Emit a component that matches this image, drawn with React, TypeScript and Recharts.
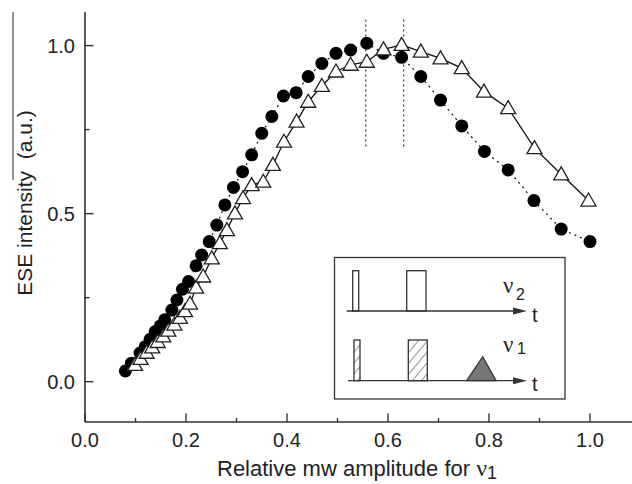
import { ScatterChart, Scatter, XAxis, YAxis, ReferenceLine } from 'recharts';

// filled circles (dash-dot line)
const circleX = [
  0.080, 0.092, 0.109, 0.119, 0.129, 0.139, 0.149, 0.158, 0.172, 0.182, 0.193, 0.205,
  0.220, 0.231, 0.246, 0.261, 0.277, 0.294, 0.312, 0.330, 0.350, 0.370, 0.393, 0.418,
  0.442, 0.469, 0.497, 0.526, 0.558, 0.591, 0.627, 0.665, 0.704, 0.746, 0.791, 0.838,
  0.889, 0.943, 1.000,
];
const circleY = [
  0.032, 0.055, 0.085, 0.104, 0.126, 0.149, 0.166, 0.184, 0.213, 0.243, 0.275, 0.298,
  0.345, 0.377, 0.417, 0.466, 0.526, 0.578, 0.625, 0.675, 0.739, 0.789, 0.850, 0.860,
  0.908, 0.947, 0.977, 0.987, 1.007, 0.977, 0.965, 0.908, 0.838, 0.761, 0.685, 0.630,
  0.539, 0.454, 0.417,
];

// open triangles (solid line)
const triX = [
  0.099, 0.110, 0.122, 0.133, 0.144, 0.155, 0.165, 0.177, 0.188, 0.198, 0.208,
  0.220, 0.234, 0.251, 0.267, 0.281, 0.297, 0.313, 0.330, 0.353, 0.372, 0.394, 0.419,
  0.442, 0.469, 0.497, 0.526, 0.558, 0.591, 0.627, 0.665, 0.704, 0.746, 0.790, 0.838,
  0.890, 0.943, 0.997,
];
const triY = [
  0.050, 0.068, 0.086, 0.102, 0.118, 0.135, 0.152, 0.170, 0.190, 0.210, 0.232,
  0.280, 0.313, 0.367, 0.412, 0.451, 0.501, 0.546, 0.585, 0.595, 0.645, 0.714, 0.774,
  0.833, 0.880, 0.923, 0.943, 0.952, 0.989, 1.002, 0.982, 0.962, 0.933, 0.863, 0.814,
  0.695, 0.617, 0.539,
];

const xTicks = [0, 0.1, 0.2, 0.3, 0.4, 0.5, 0.6, 0.7, 0.8, 0.9, 1.0];
const yTicks = [0, 0.25, 0.5, 0.75, 1.0];
const peakX = [0.556, 0.631];
const peakSpan = [0.70, 1.08];

const INK = '#222';
const AXIS = '#333';
const FONT = "Arial, 'Liberation Sans', Helvetica, sans-serif";

const circles = circleX.map((x, i) => ({ x, y: circleY[i] }));
const triangles = triX.map((x, i) => ({ x, y: triY[i] }));

function Dot(p: any) {
  return <circle cx={p.cx} cy={p.cy} r={6.5} fill="#000" />;
}

function Tri(p: any) {
  const { cx, cy } = p;
  return (
    <polygon
      points={`${cx},${cy - 7.5} ${cx - 7.5},${cy + 5.5} ${cx + 7.5},${cy + 5.5}`}
      fill="#fff"
      stroke={INK}
      strokeWidth={1.3}
    />
  );
}

function XTick(p: any) {
  const v = p.payload.value;
  const major = Math.round(v * 10) % 2 === 0;
  return (
    <g>
      <line x1={p.x} x2={p.x} y1={p.y} y2={p.y - (major ? 8.5 : 4)} stroke={AXIS} strokeWidth={1.4} />
      {major && (
        <text x={p.x} y={p.y + 25} textAnchor="middle" fontSize={20} fontFamily={FONT} fill={INK}>
          {v.toFixed(1)}
        </text>
      )}
    </g>
  );
}

function YTick(p: any) {
  const v = p.payload.value;
  const major = Math.round(v * 100) % 50 === 0;
  return (
    <g>
      <line x1={p.x} x2={p.x + (major ? 8.5 : 4.5)} y1={p.y} y2={p.y} stroke={AXIS} strokeWidth={1.4} />
      {major && (
        <text x={p.x - 10} y={p.y} dy="0.36em" textAnchor="end" fontSize={20} fontFamily={FONT} fill={INK}>
          {v.toFixed(1)}
        </text>
      )}
    </g>
  );
}

function Inset() {
  return (
    <g stroke={AXIS} strokeWidth={1.3} fill="none">
      <defs>
        <pattern id="hatch" width={7} height={7} patternUnits="userSpaceOnUse" patternTransform="rotate(40)">
          <line x1={0} y1={0} x2={0} y2={7} stroke={AXIS} strokeWidth={1.1} />
        </pattern>
      </defs>
      <rect x={334.5} y={257.5} width={230.5} height={141.5} fill="#fff" />
      {/* nu2 row */}
      <rect x={352.7} y={270.7} width={6} height={40.3} />
      <rect x={406.7} y={270.7} width={19.3} height={40.3} />
      <line x1={346.7} y1={311} x2={514} y2={311} />
      <polygon points="513,307.5 527,311 513,314.5" fill={AXIS} stroke="none" />
      {/* nu1 row */}
      <rect x={354} y={340} width={6} height={40.7} fill="url(#hatch)" />
      <rect x={408.3} y={340} width={19} height={40.7} fill="url(#hatch)" />
      <polygon points="466.7,380.7 482.7,356.7 496,380.7" fill="#777" />
      <line x1={348} y1={380.7} x2={514} y2={380.7} />
      <polygon points="513,377.2 527,380.7 513,384.2" fill={AXIS} stroke="none" />
      <g stroke="none" fill={INK} fontFamily={FONT}>
        <text x={532} y={322} fontSize={20}>t</text>
        <text x={532} y={391} fontSize={20}>t</text>
        <text x={503} y={293} fontSize={23} fontFamily="'Liberation Serif', serif">ν</text>
        <text x={516} y={300} fontSize={16}>2</text>
        <text x={503} y={352} fontSize={23} fontFamily="'Liberation Serif', serif">ν</text>
        <text x={517} y={354} fontSize={16}>1</text>
      </g>
    </g>
  );
}

export default function App() {
  return (
    <div style={{ position: 'fixed', left: 0, top: 0, width: 632, height: 484, overflow: 'hidden', background: '#fff' }}>
      <ScatterChart width={660} height={484} margin={{ top: 12, right: 19.5, bottom: 0, left: 0 }}>
        <XAxis
          dataKey="x"
          type="number"
          domain={[0, 1.1]}
          allowDataOverflow
          ticks={xTicks}
          interval={0}
          tickSize={0}
          tickMargin={0}
          tickLine={false}
          tick={<XTick />}
          height={62}
          axisLine={{ stroke: AXIS, strokeWidth: 1.6 }}
        />
        <XAxis
          xAxisId="top"
          orientation="top"
          type="number"
          domain={[0, 1.1]}
          tick={false}
          tickLine={false}
          height={0}
          axisLine={{ stroke: AXIS, strokeWidth: 1.6 }}
        />
        <YAxis
          dataKey="y"
          type="number"
          domain={[-0.12, 1.1]}
          allowDataOverflow
          ticks={yTicks}
          interval={0}
          tickSize={0}
          tickMargin={0}
          tickLine={false}
          tick={<YTick />}
          width={85}
          axisLine={{ stroke: AXIS, strokeWidth: 1.6 }}
        />
        {peakX.map((x) => (
          <ReferenceLine
            key={x}
            segment={[{ x, y: peakSpan[0] }, { x, y: peakSpan[1] }]}
            stroke={AXIS}
            strokeWidth={1.2}
            strokeDasharray="2 3"
          />
        ))}
        <Scatter
          data={circles}
          shape={Dot}
          line={{ stroke: '#111', strokeWidth: 1.2, strokeDasharray: '2 4' }}
          isAnimationActive={false}
        />
        <Scatter
          data={triangles}
          shape={Tri}
          line={{ stroke: '#111', strokeWidth: 1.3 }}
          isAnimationActive={false}
        />
      </ScatterChart>
      <svg width={632} height={484} style={{ position: 'absolute', left: 0, top: 0, pointerEvents: 'none' }}>
        <line x1={13} y1={12} x2={13} y2={180} stroke="#222" strokeWidth={1} />
        <text
          transform="translate(32,203) rotate(-90)"
          textAnchor="middle"
          fontSize={21}
          fontFamily={FONT}
          fill={INK}
          style={{ whiteSpace: 'pre' }}
        >
          {'ESE intensity  (a.u.)'}
        </text>
        <text x={217} y={476} fontSize={22} fontFamily={FONT} fill={INK}>
          Relative mw amplitude for{' '}
          <tspan fontFamily="'Liberation Serif', serif" fontSize={24}>ν</tspan>
          <tspan dy={3} fontSize={18}>1</tspan>
        </text>
        <Inset />
      </svg>
    </div>
  );
}
